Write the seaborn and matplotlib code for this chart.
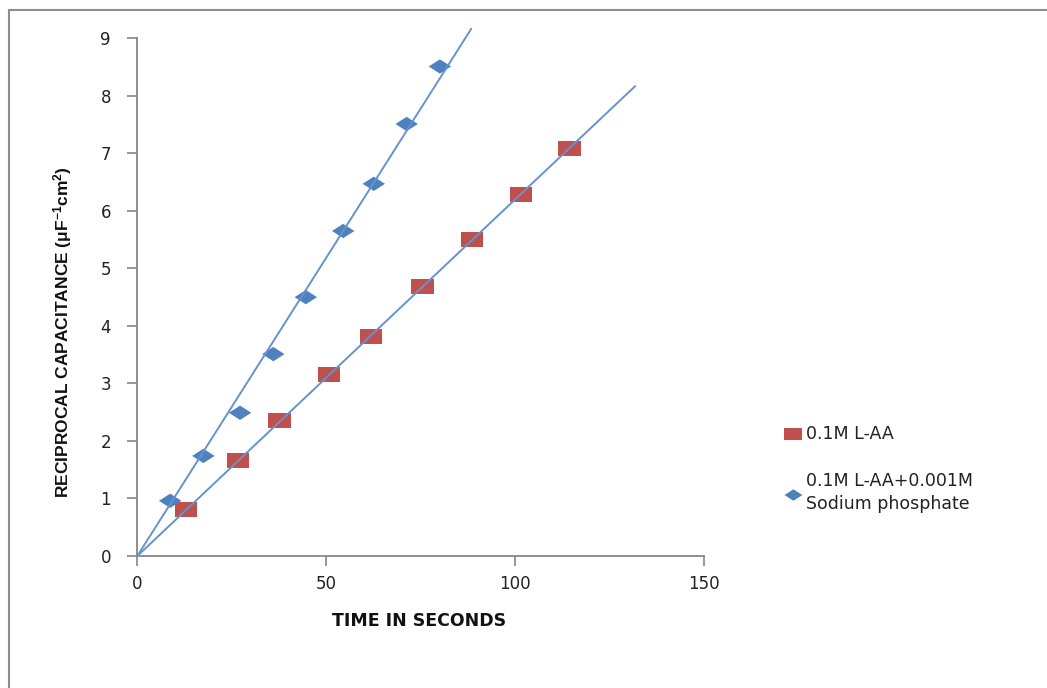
import numpy as np
import pandas as pd
import matplotlib
matplotlib.use("Agg")
import matplotlib.pyplot as plt
import matplotlib.patches as mpatches
import seaborn as sns

# ---- data ----
time_laa = [12.9, 26.6, 37.6, 50.8, 61.8, 75.5, 88.6, 101.5, 114.4]
recip_laa = [0.81, 1.66, 2.35, 3.16, 3.81, 4.68, 5.50, 6.28, 7.09]
time_phos = [8.7, 17.5, 27.2, 36.0, 44.6, 54.5, 62.6, 71.3, 80.1]
recip_phos = [0.96, 1.74, 2.49, 3.51, 4.50, 5.65, 6.47, 7.51, 8.51]
label_laa = "0.1M L-AA"
label_phos = "0.1M L-AA+0.001M\nSodium phosphate"
x_ticks = [0, 50, 100, 150]
y_ticks = [0, 1, 2, 3, 4, 5, 6, 7, 8, 9]
xlabel = "TIME IN SECONDS"
ylabel = "RECIPROCAL CAPACITANCE (μF$^{-1}$cm$^{2}$)"
# trendline forward extent (x end)
trend_end_laa = 131.8
trend_end_phos = 88.4

sns.set_style("white")
plt.rcParams["font.family"] = ["DejaVu Sans"]
plt.rcParams["mathtext.default"] = "regular"

fig = plt.figure(figsize=(10.47, 6.88), dpi=100)
ax = fig.add_axes([137.3 / 1047, (688 - 556) / 688, (704 - 137.3) / 1047, (556 - 38.3) / 688])

red = "#C0504D"
blue = "#4F81BD"
trend_col = "#6493CF"

square = [(-1, -0.66), (1, -0.66), (1, 0.66), (-1, 0.66), (-1, -0.66)]
diamond = [(-1, 0), (0, 0.64), (1, 0), (0, -0.64), (-1, 0)]

df_laa = pd.DataFrame({"t": time_laa, "r": recip_laa})
df_phos = pd.DataFrame({"t": time_phos, "r": recip_phos})

# trendlines through origin
def slope0(x, y):
    x = np.asarray(x); y = np.asarray(y)
    return (x * y).sum() / (x * x).sum()

k_laa = slope0(time_laa, recip_laa)
k_phos = slope0(time_phos, recip_phos)
ax.plot([0, trend_end_laa], [0, k_laa * trend_end_laa], color=trend_col, lw=1.4, clip_on=False, zorder=3)
ax.plot([0, trend_end_phos], [0, k_phos * trend_end_phos], color=trend_col, lw=1.4, clip_on=False, zorder=3)

sns.scatterplot(data=df_laa, x="t", y="r", marker=square, s=260, color=red,
                edgecolor="none", ax=ax, label=label_laa, zorder=2, clip_on=False)
sns.scatterplot(data=df_phos, x="t", y="r", marker=diamond, s=260, color=blue,
                edgecolor="none", ax=ax, label=label_phos, zorder=2, clip_on=False)

ax.set_xlim(0, 150)
ax.set_ylim(0, 9)
ax.set_xticks(x_ticks)
ax.set_yticks(y_ticks)
for s in ["top", "right"]:
    ax.spines[s].set_visible(False)
for s in ["left", "bottom"]:
    ax.spines[s].set_color("#868686")
    ax.spines[s].set_linewidth(1.3)
ax.tick_params(axis="both", direction="out", length=7, width=1.2, color="#868686",
               labelsize=12, labelcolor="#222222", left=True, bottom=True)
ax.tick_params(axis="x", pad=7)
ax.tick_params(axis="y", pad=12)

ax.set_xlabel(xlabel, fontsize=12.5, fontweight="bold", color="#111111")
ax.xaxis.set_label_coords(0.497, -(621 - 556) / (556 - 38.3))
ax.xaxis.label.set_va("center")
ax.set_ylabel(ylabel, fontsize=12.5, color="#111111",
              family=["Liberation Sans", "DejaVu Sans"], fontweight="bold")
ax.yaxis.set_label_coords(-(137.3 - 63) / (704 - 137.3), (556 - 332) / (556 - 38.3))
ax.yaxis.label.set_va("center")

leg = ax.legend(loc="upper left", bbox_to_anchor=(770 / 1047, 1 - 409 / 688),
                bbox_transform=fig.transFigure, frameon=False, fontsize=12.5,
                handlelength=0.9, handletextpad=0.3, labelspacing=1.7, markerscale=0.8)
for t in leg.get_texts():
    t.set_linespacing(1.35)
    t.set_color("#222222")

# chart frame
fig.add_artist(mpatches.Rectangle((9 / 1047, -0.2), 1.2, 1.2 - 10 / 688,
                                  transform=fig.transFigure, fill=False,
                                  edgecolor="#8c8c8c", lw=1.5))

fig.savefig("out.png", dpi=100)
